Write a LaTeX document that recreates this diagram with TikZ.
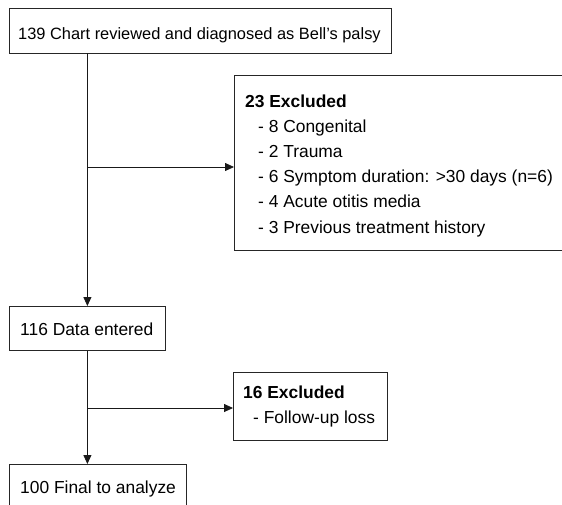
\documentclass[tikz,border=0pt]{standalone}
\usepackage{fontspec}
\setmainfont{Liberation Sans}
\usetikzlibrary{arrows.meta}
\begin{document}
\begin{tikzpicture}[x=1pt,y=-1pt,
  box/.style={draw=black!85,line width=0.8pt,rectangle,inner sep=0pt},
  txt/.style={anchor=base west,inner sep=0pt,font=\fontsize{17.4}{25}\selectfont},
  txtA/.style={anchor=base west,inner sep=0pt,font=\fontsize{16.4}{25}\selectfont},
  arr/.style={draw=black!90,line width=0.8pt,-{Triangle[length=9pt,width=8pt]}}]
\useasboundingbox (0,0) rectangle (562,504);
\clip (0,0) rectangle (562,504);
% boxes
\node[box,minimum width=382pt,minimum height=45pt] (b1) at (200,30.5) {};
\node[box,minimum width=340pt,minimum height=175pt,anchor=north west] (b2) at (234,75) {};
\node[box,minimum width=156pt,minimum height=44pt,anchor=north west] (b3) at (9,306) {};
\node[box,minimum width=154pt,minimum height=68pt,anchor=north west] (b4) at (233,372) {};
\node[box,minimum width=177pt,minimum height=50pt,anchor=north west] (b5) at (9,464) {};
% texts
\node[txtA] (t1) at (18,39) {139 Chart reviewed and diagnosed as Bell’s palsy};
\node[txt] (t2) at (245,107) {\bfseries 23 Excluded};
\node[txt] (t3) at (258,132) {- 8 Congenital};
\node[txt] (t4) at (258,157) {- 2 Trauma};
\node[txt] (t5) at (258,182) {- 6 Symptom duration: >30 days (n=6)};
\node[txt] (t6) at (258,207.5) {- 4 Acute otitis media};
\node[txt] (t7) at (258,233) {- 3 Previous treatment history};
\node[txt] (t8) at (20,335) {116 Data entered};
\node[txt] (t9) at (243,398) {\bfseries 16 Excluded};
\node[txt] (t10) at (253,423) {- Follow-up loss};
\node[txt] (t11) at (20,493) {100 Final to analyze};
% connectors
\coordinate (j1) at (87,167);
\coordinate (j2) at (87,408);
\draw[arr] (b3.north |- b1.south) -- (b3.north);
\draw[arr] (j1) -- (j1 -| b2.west);
\draw[arr] (b3.south) -- (b3.south |- b5.north);
\draw[arr] (j2) -- (j2 -| b4.west);
\end{tikzpicture}
\end{document}
